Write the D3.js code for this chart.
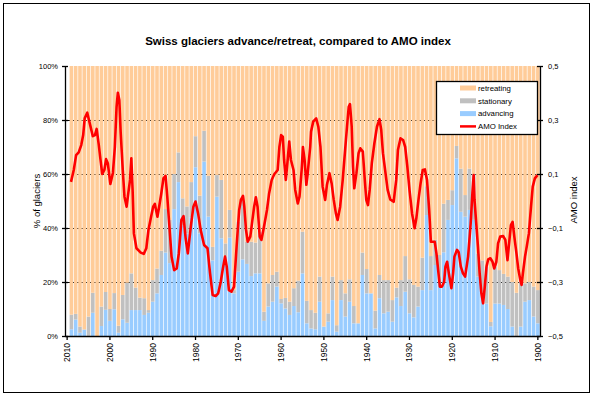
<!DOCTYPE html>
<html>
<head>
<meta charset="utf-8">
<script src="https://d3js.org/d3.v7.min.js"></script>
<style>
body { margin: 0; background: #fff; }
text { font-family: "Liberation Sans", Arial, sans-serif; fill: #000; }
</style>
</head>
<body>
<div id="chart"></div>
<script>
//---------------- sizes ----------------------
var w = 597;
var h = 396;
var plotLeft = 65, plotRight = 540, plotTop = 66, plotBottom = 336;

//---------------- data ----------------------
// one category per year, 2010 has no survey data
var years = d3.range(2010, 1899, -1);

// % of glaciers advancing (blue), 2010 -> 1900
var advancing = [null,
	2.5, 6.1, 1.2, 2.4, 0, 8.6, 0, 3.7, 9.7, 5.6,
	9.9, 1.2, 6.2, 4.9, 9.6, 9.6, 9.6, 7.8, 8.6, 12.7,
	15.8, 22.6, 30.9, 27, 47, 57, 41, 38, 44, 62.5,
	38, 64.6, 44.2, 28, 51.6, 36.2, 29.4, 36.4, 15.8, 23.8,
	28.4, 26.7, 22.2, 23.2, 23.2, 5.6, 10.9, 12.7, 18.3, 12.1,
	10.2, 7.8, 11.1, 8.8, 23.2, 4.7, 2.8, 2.5, 12.7, 3.5,
	5.3, 13.3, 1.6, 13.3, 7.2, 12.7, 4.7, 4.7, 22.6, 15.8,
	15.8, 2.8, 14, 8.4, 9, 5.3, 14.3, 11.1, 16.4, 8.4,
	6.9, 10.9, 17, 44.8, 17, 26.3, 20, 31, 43, 48.5,
	65.8, 46, 44.2, 46.7, 43, 22, 15.8, 12, 3.6, 12,
	12, 11.5, 10, 3.5, 0, 3.5, 12.7, 13.3, 7.2, 4.7];

// % of glaciers stationary (grey), 2010 -> 1900
var stationary = [null,
	5.4, 2.1, 2.3, 0, 7.2, 7.4, 0, 7.2, 6.6, 4.4,
	6, 2.6, 9, 14.8, 13.6, 8.3, 4.6, 6.2, 1, 8,
	9.2, 9, 16.1, 16, 13, 11, 10, 10, 13, 11.5,
	14, 11.4, 15.1, 5, 8, 21.6, 4.9, 10.3, 1.2, 18.5,
	22, 8.2, 12.7, 11.4, 15.4, 3.4, 8.6, 9.9, 5.5, 1.6,
	3.9, 4.9, 6.6, 11.7, 15.4, 8.3, 6.8, 6.1, 9.3, 0,
	3.1, 8.7, 2.4, 7.4, 8.6, 8.3, 6.4, 0, 8.3, 9,
	0, 6.6, 8.6, 12.3, 11.7, 8, 3.6, 9.6, 13.2, 12.6,
	12, 7.4, 12, 10.7, 12.6, 9.3, 10, 18, 7.4, 5.5,
	4.6, 16, 8, 15.3, 17, 8.6, 12.2, 13.7, 1.6, 13.7,
	12.4, 11.5, 12, 16.5, 16, 16.5, 6.8, 6.7, 11.1, 12.3];

// AMO index (smoothed)
var amoYears = [2009.1, 2008.45, 2007.9, 2007.3, 2006.7, 2006.25, 2005.9, 2005.3, 2004.6, 2004.0,
	2003.5, 2003.1, 2002.6, 2002.2, 2001.8, 2001.3, 2000.9, 2000.5, 1999.9, 1999.3,
	1998.85, 1998.45, 1998.15, 1997.8, 1997.5, 1997.0, 1996.6, 1996.1, 1995.7, 1995.3,
	1995.0, 1994.7, 1994.4, 1993.8, 1992.8, 1992.1, 1991.5, 1991.0, 1990.3, 1989.9,
	1989.5, 1988.9, 1988.5, 1988.0, 1987.5, 1987.0, 1986.6, 1986.1, 1985.6, 1985.0,
	1984.4, 1983.9, 1983.3, 1982.8, 1982.3, 1981.8, 1981.1, 1980.5, 1980.0, 1979.4,
	1978.8, 1978.0, 1977.2, 1976.6, 1976.0, 1975.3, 1974.7, 1974.1, 1973.6, 1973.1,
	1972.7, 1972.2, 1971.6, 1971.0, 1970.4, 1969.8, 1969.4, 1968.9, 1968.6, 1968.2,
	1967.8, 1967.2, 1966.7, 1966.3, 1965.9, 1965.5, 1965.0, 1964.6, 1964.0, 1963.3,
	1962.8, 1962.2, 1961.6, 1960.8, 1960.4, 1960.0, 1959.6, 1959.3, 1958.9, 1958.5,
	1958.1, 1957.7, 1957.1, 1956.7, 1956.1, 1955.7, 1955.2, 1954.9, 1954.5, 1954.1,
	1953.8, 1953.5, 1953.2, 1953.0, 1952.5, 1951.8, 1951.3, 1950.8, 1950.3, 1949.7,
	1949.3, 1948.7, 1948.2, 1947.7, 1947.2, 1946.8, 1946.2, 1945.6, 1945.1, 1944.6,
	1944.2, 1943.9, 1943.5, 1943.2, 1942.9, 1942.4, 1941.9, 1941.5, 1940.9, 1940.5,
	1940.1, 1939.7, 1939.3, 1938.8, 1938.2, 1937.6, 1937.0, 1936.6, 1936.2, 1935.7,
	1935.1, 1934.5, 1933.7, 1933.1, 1932.7, 1932.1, 1931.5, 1931.0, 1930.5, 1930.0,
	1929.4, 1928.8, 1928.4, 1927.9, 1927.4, 1926.9, 1926.4, 1925.9, 1925.4, 1925.0,
	1924.1, 1923.7, 1923.3, 1922.9, 1922.4, 1921.9, 1921.6, 1921.2, 1920.8, 1920.2,
	1919.8, 1919.5, 1918.9, 1918.5, 1918.0, 1917.5, 1917.0, 1916.3, 1915.7, 1915.3,
	1915.0, 1914.8, 1914.4, 1914.0, 1913.6, 1913.2, 1912.8, 1912.4, 1912.0, 1911.6,
	1911.1, 1910.6, 1910.2, 1909.7, 1909.3, 1908.8, 1908.1, 1907.6, 1907.1, 1906.8,
	1906.3, 1905.9, 1905.5, 1905.0, 1904.6, 1904.1, 1903.8, 1903.5, 1903.0, 1902.6,
	1902.1, 1901.6, 1901.2, 1900.7, 1900.1];
var amoValues = [0.071, 0.115, 0.17, 0.18, 0.207, 0.244, 0.306, 0.327, 0.28, 0.24,
	0.244, 0.267, 0.207, 0.152, 0.1, 0.115, 0.155, 0.14, 0.063, 0.104,
	0.2, 0.349, 0.401, 0.374, 0.257, 0.115, 0.016, -0.021, 0.03, 0.078,
	0.158, 0.041, -0.12, -0.175, -0.191, -0.196, -0.175, -0.107, -0.052, -0.021,
	-0.011, -0.058, -0.021, 0.028, 0.084, 0.093, 0.016, -0.095, -0.206, -0.256,
	-0.25, -0.194, -0.07, -0.056, -0.14, -0.194, -0.095, -0.021, -0.002, -0.046,
	-0.107, -0.163, -0.175, -0.268, -0.348, -0.352, -0.342, -0.299, -0.249, -0.206,
	-0.243, -0.33, -0.336, -0.317, -0.169, -0.033, 0.004, 0.019, -0.021, -0.107,
	-0.151, -0.132, -0.07, -0.021, 0.014, -0.021, -0.132, -0.144, -0.095, -0.033,
	0.028, 0.078, 0.099, 0.115, 0.2, 0.244, 0.238, 0.152, 0.078, 0.146,
	0.22, 0.152, 0.115, 0.041, -0.009, 0.016, 0.115, 0.2, 0.15, 0.06,
	0.1, 0.15, 0.2, 0.257, 0.294, 0.306, 0.275, 0.2, 0.053, 0.004,
	0.059, 0.103, 0.066, 0.004, -0.046, -0.07, -0.021, 0.078, 0.177, 0.275,
	0.349, 0.359, 0.275, 0.127, 0.047, 0.103, 0.177, 0.195, 0.183, 0.09,
	0.004, -0.015, 0.041, 0.14, 0.214, 0.275, 0.303, 0.263, 0.177, 0.115,
	0.041, 0.006, -0.003, 0.078, 0.189, 0.232, 0.226, 0.2, 0.127, 0.041,
	-0.046, -0.101, -0.064, 0.004, 0.066, 0.115, 0.117, 0.078, -0.033, -0.151,
	-0.151, -0.194, -0.256, -0.317, -0.317, -0.299, -0.243, -0.225, -0.268, -0.323,
	-0.268, -0.206, -0.181, -0.19, -0.243, -0.268, -0.28, -0.206, -0.083, 0.028,
	0.096, 0.004, -0.083, -0.169, -0.268, -0.342, -0.379, -0.317, -0.243, -0.216,
	-0.212, -0.225, -0.25, -0.225, -0.157, -0.132, -0.13, -0.144, -0.219, -0.169,
	-0.089, -0.077, -0.132, -0.194, -0.249, -0.293, -0.311, -0.268, -0.206, -0.169,
	-0.12, -0.021, 0.053, 0.084, 0.096];

var pctTicks = [0, 20, 40, 60, 80, 100];
var amoTicks = [-0.5, -0.3, -0.1, 0.1, 0.3, 0.5];
var yearTicks = [2010, 2000, 1990, 1980, 1970, 1960, 1950, 1940, 1930, 1920, 1910, 1900];

var seriesNames = ["retreating", "stationary", "advancing"];
var colors = {retreating: "#FFCC99", stationary: "#C0C0C0", advancing: "#99CCFF"};

//---------------- scales ----------------------
var xScale = d3.scaleBand()
		.domain(years)
		.range([plotLeft, plotRight])
		.paddingInner(0.16)
		.paddingOuter(0.08);

var half = xScale.bandwidth() / 2;
var xYear = d3.scaleLinear()
		.domain([2010, 1900])
		.range([xScale(2010) + half, xScale(1900) + half]);

var yPct = d3.scaleLinear()
		.domain([0, 100])
		.range([plotBottom, plotTop]);

var yAmo = d3.scaleLinear()
		.domain([-0.5, 0.5])
		.range([plotBottom, plotTop]);

//---------------- table for stacking ----------------------
var rows = [];
for (var i = 0; i < years.length; i++) {
	if (advancing[i] == null) continue;
	rows.push({
		year: years[i],
		advancing: advancing[i],
		stationary: stationary[i],
		retreating: 100 - advancing[i] - stationary[i]
	});
}
var stacked = d3.stack().keys(["advancing", "stationary", "retreating"])(rows);

//---------------- svg ----------------------
var svg = d3.select("#chart").append("svg")
	.attr("width", w)
	.attr("height", h);

svg.append("rect")
	.attr("width", w).attr("height", h)
	.attr("fill", "#fff");

// outer frame
svg.append("rect")
	.attr("x", 3.5).attr("y", 3.5)
	.attr("width", 586).attr("height", 389)
	.attr("fill", "none")
	.attr("stroke", "#000")
	.attr("stroke-width", 1);

// gridlines sit behind the bars, so they only show in the gaps
svg.append("g")
	.selectAll("line")
	.data([20, 40, 60, 80])
	.enter()
	.append("line")
	.attr("x1", plotLeft).attr("x2", plotRight)
	.attr("y1", function(d) { return Math.round(yPct(d)) + 0.5; })
	.attr("y2", function(d) { return Math.round(yPct(d)) + 0.5; })
	.attr("stroke", "#000")
	.attr("stroke-width", 1);

//---------------- bars ----------------------
svg.append("g")
	.selectAll("g")
	.data(stacked)
	.enter()
	.append("g")
	.attr("fill", function(d) { return colors[d.key]; })
	.selectAll("rect")
	.data(function(d) { return d; })
	.enter()
	.append("rect")
	.attr("x", function(d) { return xScale(d.data.year); })
	.attr("width", xScale.bandwidth())
	.attr("y", function(d) { return yPct(d[1]); })
	.attr("height", function(d) { return yPct(d[0]) - yPct(d[1]); });

//---------------- axes ----------------------
var leftAxis = d3.axisLeft(yPct)
	.tickValues(pctTicks)
	.tickFormat(function(d) { return d + "%"; })
	.tickSizeInner(3)
	.tickSizeOuter(0)
	.tickPadding(4);

var gLeft = svg.append("g")
	.attr("transform", "translate(" + plotLeft + ",0)")
	.call(leftAxis);

var rightAxis = d3.axisRight(yAmo)
	.tickValues(amoTicks)
	.tickFormat(function(d) { return d3.format(".1f")(d).replace(".", ","); })
	.tickSizeInner(3)
	.tickSizeOuter(0)
	.tickPadding(5);

var gRight = svg.append("g")
	.attr("transform", "translate(" + plotRight + ",0)")
	.call(rightAxis);

var bottomAxis = d3.axisBottom(xScale)
	.tickValues(yearTicks)
	.tickSizeInner(4)
	.tickSizeOuter(0);

var gBottom = svg.append("g")
	.attr("transform", "translate(0," + plotBottom + ")")
	.call(bottomAxis);

gBottom.selectAll("text")
	.attr("transform", "rotate(-90)")
	.attr("x", -7)
	.attr("y", 0)
	.attr("dy", "0.35em")
	.style("text-anchor", "end");

// crossing tick marks on the value axes
gLeft.selectAll(".tick line").attr("x1", 3);
gRight.selectAll(".tick line").attr("x1", -3);

[gLeft, gRight, gBottom].forEach(function(g) {
	g.selectAll(".domain").attr("stroke", "#000").attr("stroke-width", 1.3);
	g.selectAll(".tick line").attr("stroke", "#000").attr("stroke-width", 1.3);
	g.selectAll("text")
		.attr("font-family", "'Liberation Sans', Arial, sans-serif")
		.attr("font-size", 7.5)
		.attr("fill", "#000");
});
gBottom.selectAll("text").attr("font-size", 8.5);

//---------------- AMO line ----------------------
var amoPoints = amoYears.map(function(y, i) { return [y, amoValues[i]]; });

var line = d3.line()
	.x(function(d) { return xYear(d[0]); })
	.y(function(d) { return yAmo(d[1]); });

svg.append("path")
	.datum(amoPoints)
	.attr("d", line)
	.attr("fill", "none")
	.attr("stroke", "#FF0000")
	.attr("stroke-width", 2.6)
	.attr("stroke-linejoin", "round");

//---------------- titles ----------------------
svg.append("text")
	.attr("x", 298)
	.attr("y", 45)
	.attr("text-anchor", "middle")
	.attr("font-size", 11.5)
	.attr("font-weight", "bold")
	.text("Swiss glaciers advance/retreat, compared to AMO index");

svg.append("text")
	.attr("transform", "translate(37,201) rotate(-90)")
	.attr("text-anchor", "middle")
	.attr("dy", "0.35em")
	.attr("font-size", 9.5)
	.text("% of glaciers");

svg.append("text")
	.attr("transform", "translate(574,200) rotate(-90)")
	.attr("text-anchor", "middle")
	.attr("dy", "0.35em")
	.attr("font-size", 9.5)
	.text("AMO index");

//---------------- legend ----------------------
var legend = svg.append("g");

legend.append("rect")
	.attr("x", 436.5).attr("y", 81.5)
	.attr("width", 101).attr("height", 53)
	.attr("fill", "#fff")
	.attr("stroke", "#000")
	.attr("stroke-width", 1.3);

var legendItems = seriesNames.concat(["AMO Index"]);

var items = legend.selectAll("g.item")
	.data(legendItems)
	.enter()
	.append("g")
	.attr("class", "item")
	.attr("transform", function(d, i) { return "translate(460," + (88 + i * 12.8) + ")"; });

items.each(function(d) {
	var g = d3.select(this);
	if (colors[d]) {
		g.append("rect")
			.attr("x", 0).attr("y", -2.5)
			.attr("width", 16).attr("height", 5)
			.attr("fill", colors[d]);
	} else {
		g.append("line")
			.attr("x1", 0).attr("x2", 16)
			.attr("stroke", "#FF0000")
			.attr("stroke-width", 2.5);
	}
	g.append("text")
		.attr("x", 18)
		.attr("dy", "0.35em")
		.attr("font-size", 7.8)
		.text(d);
});
</script>
</body>
</html>
